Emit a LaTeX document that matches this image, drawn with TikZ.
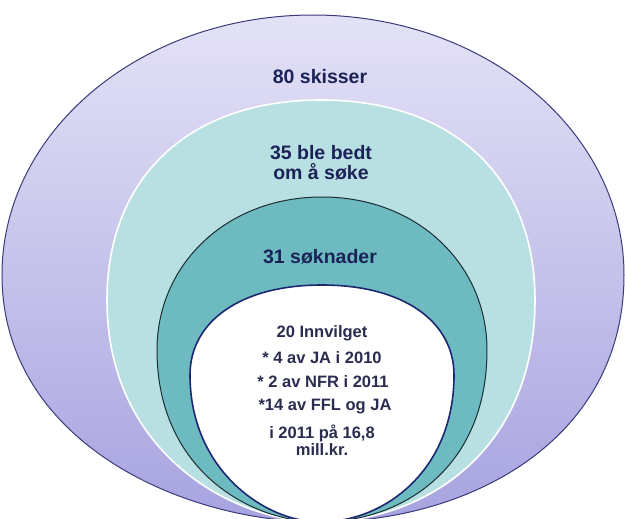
\documentclass[tikz,border=0pt]{standalone}
\usepackage{fontspec}
\setmainfont{Liberation Sans}
\definecolor{outertop}{HTML}{E4E2F6}
\definecolor{outerbot}{HTML}{A7A3E0}
\definecolor{outerline}{HTML}{3B3B7B}
\definecolor{lteal}{HTML}{B8E0E2}
\definecolor{dteal}{HTML}{6DBAC1}
\definecolor{dtealline}{HTML}{1B2E33}
\definecolor{whiteline}{HTML}{1E2870}
\definecolor{labelcol}{HTML}{1C2257}
\definecolor{innertext}{HTML}{2A2C50}
\tikzset{
  biglabel/.style={font=\fontsize{19.5}{20}\selectfont\bfseries, text=labelcol, align=center, inner sep=0pt},
  smalllabel/.style={font=\fontsize{16.5}{17}\selectfont\bfseries, text=innertext, align=center, inner sep=0pt}
}
\begin{document}
\begin{tikzpicture}[x=1pt,y=-1pt]
\useasboundingbox (0,0) rectangle (625,519);
\clip (0,0) rectangle (625,519);
\fill[white] (0,0) rectangle (625,519);
% outer
\path[top color=outertop, bottom color=outerbot, draw=outerline, line width=1pt]
  (313,15) .. controls (141,15) and (2,131) .. (2,275)
  .. controls (2,440) and (180,522) .. (320,522)
  .. controls (470,522) and (624,440) .. (624,275)
  .. controls (624,131) and (485,15) .. (313,15) -- cycle;
% light teal
\path[fill=lteal, draw=white, line width=1.6pt]
  (321,100) .. controls (188,100) and (107,178) .. (107,300)
  .. controls (107,455) and (235,522) .. (320,522)
  .. controls (420,522) and (535,455) .. (535,300)
  .. controls (535,178) and (454,100) .. (321,100) -- cycle;
% dark teal
\path[fill=dteal, draw=dtealline, line width=1pt]
  (322,197) .. controls (226,197) and (157,265) .. (157,350)
  .. controls (157,470) and (250,522) .. (320,522)
  .. controls (400,522) and (487,470) .. (487,350)
  .. controls (487,265) and (418,197) .. (322,197) -- cycle;
% white
\path[fill=white, draw=whiteline, line width=1.6pt]
  (322,285) .. controls (240,285) and (190,322) .. (190,375)
  .. controls (190,470) and (265,522) .. (320,522)
  .. controls (385,522) and (454,470) .. (454,375)
  .. controls (454,322) and (404,285) .. (322,285) -- cycle;
% labels
\node[biglabel] (l80) at (320,77) {80 skisser};
\node[biglabel] (l35) at (321,163) {35 ble bedt\\om å søke};
\node[biglabel] (l31) at (320,257) {31 søknader};
\node[smalllabel] (l20) at (322,333) {20 Innvilget};
\node[smalllabel] (lja) at (322,358) {* 4 av JA i 2010};
\node[smalllabel] (lnfr) at (323,382) {* 2 av NFR i 2011};
\node[smalllabel] (lffl) at (325,407) {*14 av FFL og JA};
\node[smalllabel] (lmill) at (322,440) {i 2011 på 16,8\\mill.kr.};
\end{tikzpicture}
\end{document}
